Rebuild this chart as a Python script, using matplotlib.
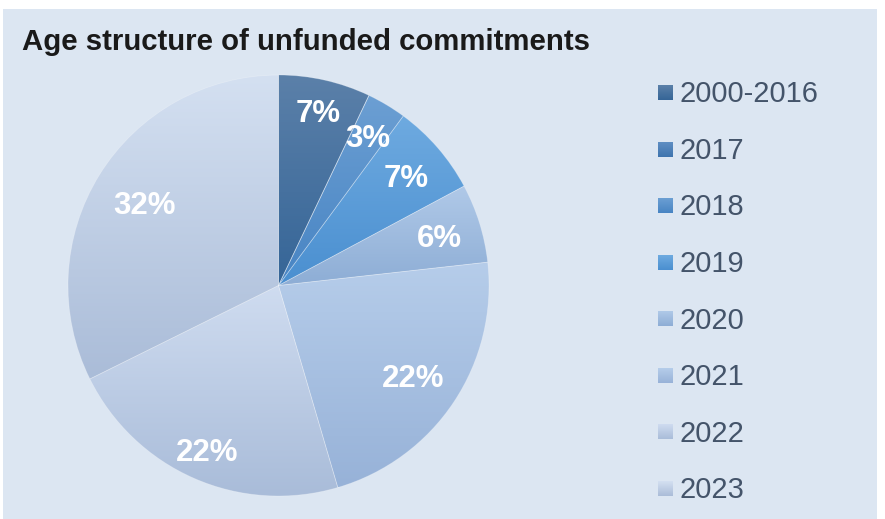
import numpy as np
import matplotlib
matplotlib.use("Agg")
import matplotlib.pyplot as plt
from matplotlib.patches import Rectangle
from matplotlib.colors import to_rgb

# Share of unfunded commitments by vintage year (in %)
years = ["2000-2016", "2017", "2018", "2019", "2020", "2021", "2022", "2023"]
shares = [7, 0, 3, 7, 6, 22, 22, 32]

# Vertical gradient of each slice: colour at top and at bottom
top_colors = ["#5b80a9", "#5f8ec3", "#6c9fd3", "#6eaae0",
              "#b0c9e8", "#b6cdea", "#cfdcf0", "#d4e0f1"]
bottom_colors = ["#356597", "#3e74ae", "#4784c3", "#4a8fd0",
                 "#8dadd5", "#97b2d8", "#a9bcd9", "#aabcd8"]

# Radial position of each percentage label (fraction of radius)
label_radius = [0.85, 0.80, 0.83, 0.80, 0.80, 0.77, 0.85, 0.75]

W, H = 885, 519
FONT = "Liberation Sans"


def vgrad(top, bottom, n=256):
    t = np.linspace(0, 1, n)[:, None, None]
    return (1 - t) * np.array(to_rgb(top)) + t * np.array(to_rgb(bottom))


fig = plt.figure(figsize=(W / 100, H / 100), dpi=100, facecolor="white")

# Background panel, title and legend in pixel coordinates
bg = fig.add_axes([0, 0, 1, 1], zorder=0)
bg.set_xlim(0, W)
bg.set_ylim(H, 0)
bg.axis("off")
bg.add_patch(Rectangle((3, 8.5), 874, H - 8.5, color="#dce6f2", lw=0))
bg.text(22, 50.5, "Age structure of unfunded commitments", fontsize=21.2,
        fontweight="bold", family=FONT, color="#1a1a1a", va="baseline")

row_step = 56.57
for i, (name, top, bot) in enumerate(zip(years, top_colors, bottom_colors)):
    y0 = 85 + i * row_step
    bg.imshow(vgrad(top, bot), extent=(658, 673, y0 + 15, y0),
              aspect="auto", interpolation="bilinear", zorder=2)
    bg.text(679.5, 102.3 + i * row_step, name, fontsize=20.9, family=FONT,
            color="#44546a", va="baseline", ha="left")
bg.set_xlim(0, W)
bg.set_ylim(H, 0)

# Pie chart
cx, cy, r = 278.5, 285.5, 210.5
ax = fig.add_axes([(cx - r) / W, (H - cy - r) / H, 2 * r / W, 2 * r / H], zorder=1)
wedges, _ = ax.pie(shares, startangle=90, counterclock=False, radius=1,
                   colors=bottom_colors,
                   wedgeprops=dict(edgecolor=(1, 1, 1, 0.25), linewidth=0.6))

for w, top, bot, v, lr in zip(wedges, top_colors, bottom_colors, shares, label_radius):
    if v <= 0:
        continue
    w.set_facecolor("none")
    bb = w.get_path().get_extents()
    im = ax.imshow(vgrad(top, bot), extent=(bb.x0, bb.x1, bb.y0, bb.y1),
                   aspect="auto", interpolation="bilinear", zorder=0.5)
    im.set_clip_path(w)
    mid = np.deg2rad((w.theta1 + w.theta2) / 2)
    ax.text(lr * np.cos(mid), lr * np.sin(mid), f"{v}%", ha="center",
            va="center_baseline", fontsize=22.5, fontweight="bold",
            family=FONT, color="white", zorder=3)

ax.set_xlim(-1, 1)
ax.set_ylim(-1, 1)
ax.axis("off")

fig.savefig("out.png", dpi=100, facecolor="white")
